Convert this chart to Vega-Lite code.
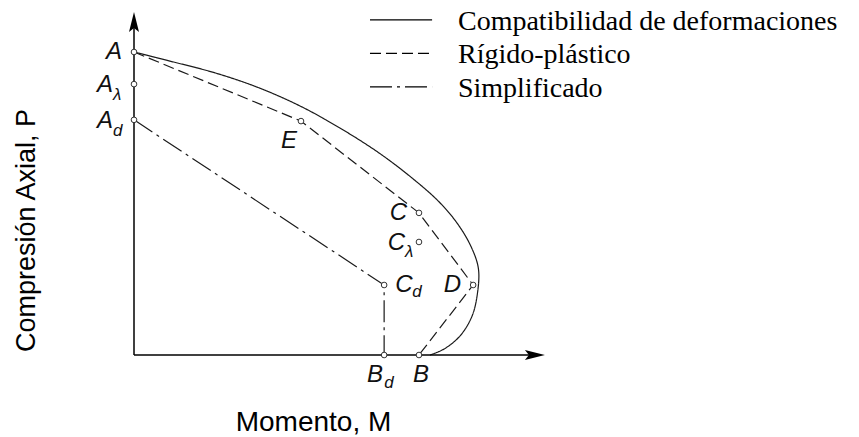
{
  "$schema": "https://vega.github.io/schema/vega-lite/v6.json",
  "width": 859,
  "height": 437,
  "autosize": {"type": "none"},
  "padding": 0,
  "background": "white",
  "config": {
    "view": {"stroke": null},
    "font": "Liberation Sans",
    "axis": {"grid": false, "domain": false, "ticks": false, "labels": false}
  },
  "datasets": {
    "series": [
      {"series": "Compatibilidad de deformaciones"},
      {"series": "Rígido-plástico"},
      {"series": "Simplificado"}
    ],
    "curves": [
      {"series": "Compatibilidad de deformaciones", "seq": 1, "M": 0, "P": 100},
      {"series": "Compatibilidad de deformaciones", "seq": 2, "M": 10.4, "P": 97.0},
      {"series": "Compatibilidad de deformaciones", "seq": 3, "M": 23.5, "P": 93.1},
      {"series": "Compatibilidad de deformaciones", "seq": 4, "M": 35.7, "P": 88.4},
      {"series": "Compatibilidad de deformaciones", "seq": 5, "M": 48.1, "P": 82.2},
      {"series": "Compatibilidad de deformaciones", "seq": 6, "M": 59.7, "P": 74.9},
      {"series": "Compatibilidad de deformaciones", "seq": 7, "M": 71.0, "P": 66.7},
      {"series": "Compatibilidad de deformaciones", "seq": 8, "M": 80.6, "P": 58.4},
      {"series": "Compatibilidad de deformaciones", "seq": 9, "M": 88.2, "P": 50.8},
      {"series": "Compatibilidad de deformaciones", "seq": 10, "M": 93.6, "P": 43.6},
      {"series": "Compatibilidad de deformaciones", "seq": 11, "M": 97.6, "P": 36.0},
      {"series": "Compatibilidad de deformaciones", "seq": 12, "M": 99.8, "P": 28.7},
      {"series": "Compatibilidad de deformaciones", "seq": 13, "M": 99.6, "P": 20.8},
      {"series": "Compatibilidad de deformaciones", "seq": 14, "M": 98.0, "P": 12.9},
      {"series": "Compatibilidad de deformaciones", "seq": 15, "M": 94.5, "P": 6.3},
      {"series": "Compatibilidad de deformaciones", "seq": 16, "M": 89.9, "P": 2.0},
      {"series": "Compatibilidad de deformaciones", "seq": 17, "M": 85.8, "P": 0},
      {"series": "Rígido-plástico", "seq": 1, "M": 0, "P": 100},
      {"series": "Rígido-plástico", "seq": 2, "M": 48.4, "P": 77.2},
      {"series": "Rígido-plástico", "seq": 3, "M": 82.6, "P": 46.9},
      {"series": "Rígido-plástico", "seq": 4, "M": 98.3, "P": 23.1},
      {"series": "Rígido-plástico", "seq": 5, "M": 82.6, "P": 0},
      {"series": "Simplificado", "seq": 1, "M": 0, "P": 77.6},
      {"series": "Simplificado", "seq": 2, "M": 72.5, "P": 23.1},
      {"series": "Simplificado", "seq": 3, "M": 72.5, "P": 0}
    ],
    "points": [
      {"name": "A", "main": "A", "sub": "", "M": 0, "P": 100},
      {"name": "Aλ", "main": "A", "sub": "λ", "M": 0, "P": 89.4},
      {"name": "Ad", "main": "A", "sub": "d", "M": 0, "P": 77.6},
      {"name": "E", "main": "E", "sub": "", "M": 48.4, "P": 77.2},
      {"name": "C", "main": "C", "sub": "", "M": 82.6, "P": 46.9},
      {"name": "Cλ", "main": "C", "sub": "λ", "M": 82.6, "P": 37.3},
      {"name": "Cd", "main": "C", "sub": "d", "M": 72.5, "P": 23.1},
      {"name": "D", "main": "D", "sub": "", "M": 98.3, "P": 23.1},
      {"name": "Bd", "main": "B", "sub": "d", "M": 72.5, "P": 0},
      {"name": "B", "main": "B", "sub": "", "M": 82.6, "P": 0}
    ]
  },
  "layer": [
    {
      "data": {"name": "curves"},
      "transform": [{"filter": {"field": "series", "equal": "Compatibilidad de deformaciones"}}],
      "mark": {"type": "line", "color": "#1a1a1a", "strokeWidth": 1.2, "interpolate": "catmull-rom"},
      "encoding": {
        "x": {
          "field": "M", "type": "quantitative",
          "scale": {"domain": [-38.84, 210.14], "nice": false, "zero": false},
          "axis": {
            "title": "Momento, M", "titleFont": "Liberation Sans", "titleFontSize": 28,
            "titleFontWeight": "normal", "titleColor": "#000",
            "titleX": 313, "titleY": -7, "titleAlign": "center", "titleBaseline": "alphabetic"
          }
        },
        "y": {
          "field": "P", "type": "quantitative",
          "scale": {"domain": [-27.06, 117.16], "nice": false, "zero": false},
          "axis": {
            "title": "Compresión Axial, P", "titleFont": "Liberation Sans", "titleFontSize": 27,
            "titleFontWeight": "normal", "titleColor": "#000", "titleAngle": 270,
            "titleX": 34, "titleY": 230, "titleAlign": "center", "titleBaseline": "alphabetic"
          }
        },
        "order": {"field": "seq", "type": "quantitative"},
        "strokeDash": {
          "field": "series", "type": "nominal",
          "scale": {
            "domain": ["Compatibilidad de deformaciones", "Rígido-plástico", "Simplificado"],
            "range": [[1, 0], [11, 5], [22, 5, 3, 5]]
          },
          "legend": null
        }
      }
    },
    {
      "data": {"name": "curves"},
      "transform": [{"filter": {"field": "series", "oneOf": ["Rígido-plástico", "Simplificado"]}}],
      "mark": {"type": "line", "color": "#1a1a1a", "strokeWidth": 1.2, "interpolate": "linear"},
      "encoding": {
        "x": {"field": "M", "type": "quantitative", "scale": {"domain": [-38.84, 210.14], "nice": false, "zero": false}},
        "y": {"field": "P", "type": "quantitative", "scale": {"domain": [-27.06, 117.16], "nice": false, "zero": false}},
        "order": {"field": "seq", "type": "quantitative"},
        "strokeDash": {"field": "series", "type": "nominal", "legend": null}
      }
    },
    {
      "data": {"name": "series"},
      "mark": {"type": "rule", "color": "#000", "strokeWidth": 1.2},
      "encoding": {
        "x": {"datum": 68.4, "type": "quantitative", "scale": {"domain": [-38.84, 210.14], "nice": false, "zero": false}},
        "x2": {"datum": 86.4},
        "y": {"datum": 110.6, "type": "quantitative", "scale": {"domain": [-27.06, 117.16], "nice": false, "zero": false}},
        "yOffset": {"field": "series", "type": "nominal", "sort": null, "scale": {"type": "point", "range": [0, 67], "padding": 0}},
        "strokeDash": {"field": "series", "type": "nominal", "legend": null}
      }
    },
    {
      "data": {"name": "series"},
      "mark": {"type": "text", "font": "Liberation Serif", "fontSize": 28, "color": "#000", "align": "left", "baseline": "alphabetic", "dy": 10},
      "encoding": {
        "x": {"datum": 93.9, "type": "quantitative", "scale": {"domain": [-38.84, 210.14], "nice": false, "zero": false}},
        "y": {"datum": 110.6, "type": "quantitative", "scale": {"domain": [-27.06, 117.16], "nice": false, "zero": false}},
        "yOffset": {"field": "series", "type": "nominal", "sort": null, "scale": {"type": "point", "range": [0, 67], "padding": 0}},
        "text": {"field": "series"}
      }
    },
    {
      "data": {"values": [{}]},
      "mark": {"type": "rule", "color": "#000", "strokeWidth": 1.5},
      "encoding": {
        "x": {"datum": 0, "type": "quantitative", "scale": {"domain": [-38.84, 210.14], "nice": false, "zero": false}},
        "x2": {"datum": 116},
        "y": {"datum": 0, "type": "quantitative", "scale": {"domain": [-27.06, 117.16], "nice": false, "zero": false}}
      }
    },
    {
      "data": {"values": [{}]},
      "mark": {"type": "rule", "color": "#000", "strokeWidth": 1.5},
      "encoding": {
        "x": {"datum": 0, "type": "quantitative", "scale": {"domain": [-38.84, 210.14], "nice": false, "zero": false}},
        "y": {"datum": 0, "type": "quantitative", "scale": {"domain": [-27.06, 117.16], "nice": false, "zero": false}},
        "y2": {"datum": 108}
      }
    },
    {
      "data": {"values": [{}]},
      "mark": {"type": "point", "shape": "M1,0L-1,0.5L-0.6,0L-1,-0.5Z", "filled": true, "color": "#000", "opacity": 1, "size": 400},
      "encoding": {
        "x": {"datum": 116.2, "type": "quantitative", "scale": {"domain": [-38.84, 210.14], "nice": false, "zero": false}},
        "y": {"datum": 0, "type": "quantitative", "scale": {"domain": [-27.06, 117.16], "nice": false, "zero": false}}
      }
    },
    {
      "data": {"values": [{}]},
      "mark": {"type": "point", "shape": "M0,-1L0.5,1L0,0.6L-0.5,1Z", "filled": true, "color": "#000", "opacity": 1, "size": 400},
      "encoding": {
        "x": {"datum": 0, "type": "quantitative", "scale": {"domain": [-38.84, 210.14], "nice": false, "zero": false}},
        "y": {"datum": 109.9, "type": "quantitative", "scale": {"domain": [-27.06, 117.16], "nice": false, "zero": false}}
      }
    },
    {
      "data": {"name": "points"},
      "encoding": {
        "x": {"field": "M", "type": "quantitative", "scale": {"domain": [-38.84, 210.14], "nice": false, "zero": false}},
        "y": {"field": "P", "type": "quantitative", "scale": {"domain": [-27.06, 117.16], "nice": false, "zero": false}}
      },
      "layer": [
        {
          "mark": {"type": "point", "shape": "circle", "filled": true, "fill": "white", "stroke": "#333", "strokeWidth": 1, "size": 32, "opacity": 1}
        },
        {
          "transform": [{"filter": {"field": "name", "oneOf": ["A", "C", "D"]}}],
          "mark": {"type": "text", "font": "Liberation Sans", "fontStyle": "italic", "fontSize": 24, "color": "#111", "align": "right", "baseline": "alphabetic", "dx": -12, "dy": 7},
          "encoding": {"text": {"field": "main"}}
        },
        {
          "transform": [{"filter": {"field": "name", "oneOf": ["Aλ", "Ad"]}}],
          "mark": {"type": "text", "font": "Liberation Sans", "fontStyle": "italic", "fontSize": 24, "color": "#111", "align": "right", "baseline": "alphabetic", "dx": -21, "dy": 8},
          "encoding": {"text": {"field": "main"}}
        },
        {
          "transform": [{"filter": {"field": "name", "oneOf": ["Aλ", "Ad"]}}],
          "mark": {"type": "text", "font": "Liberation Sans", "fontStyle": "italic", "fontSize": 17, "color": "#111", "align": "left", "baseline": "alphabetic", "dx": -21, "dy": 16},
          "encoding": {"text": {"field": "sub"}}
        },
        {
          "transform": [{"filter": {"field": "name", "equal": "Cλ"}}],
          "mark": {"type": "text", "font": "Liberation Sans", "fontStyle": "italic", "fontSize": 24, "color": "#111", "align": "right", "baseline": "alphabetic", "dx": -14, "dy": 8},
          "encoding": {"text": {"field": "main"}}
        },
        {
          "transform": [{"filter": {"field": "name", "equal": "Cλ"}}],
          "mark": {"type": "text", "font": "Liberation Sans", "fontStyle": "italic", "fontSize": 17, "color": "#111", "align": "left", "baseline": "alphabetic", "dx": -14, "dy": 15},
          "encoding": {"text": {"field": "sub"}}
        },
        {
          "transform": [{"filter": {"field": "name", "equal": "E"}}],
          "mark": {"type": "text", "font": "Liberation Sans", "fontStyle": "italic", "fontSize": 24, "color": "#111", "align": "right", "baseline": "alphabetic", "dx": -4, "dy": 27},
          "encoding": {"text": {"field": "main"}}
        },
        {
          "transform": [{"filter": {"field": "name", "equal": "Cd"}}],
          "mark": {"type": "text", "font": "Liberation Sans", "fontStyle": "italic", "fontSize": 24, "color": "#111", "align": "left", "baseline": "alphabetic", "dx": 11, "dy": 7},
          "encoding": {"text": {"field": "main"}}
        },
        {
          "transform": [{"filter": {"field": "name", "equal": "Cd"}}],
          "mark": {"type": "text", "font": "Liberation Sans", "fontStyle": "italic", "fontSize": 17, "color": "#111", "align": "left", "baseline": "alphabetic", "dx": 28, "dy": 12},
          "encoding": {"text": {"field": "sub"}}
        },
        {
          "transform": [{"filter": {"field": "name", "equal": "Bd"}}],
          "mark": {"type": "text", "font": "Liberation Sans", "fontStyle": "italic", "fontSize": 24, "color": "#111", "align": "right", "baseline": "alphabetic", "dx": -1, "dy": 27},
          "encoding": {"text": {"field": "main"}}
        },
        {
          "transform": [{"filter": {"field": "name", "equal": "Bd"}}],
          "mark": {"type": "text", "font": "Liberation Sans", "fontStyle": "italic", "fontSize": 17, "color": "#111", "align": "left", "baseline": "alphabetic", "dx": 0, "dy": 33},
          "encoding": {"text": {"field": "sub"}}
        },
        {
          "transform": [{"filter": {"field": "name", "equal": "B"}}],
          "mark": {"type": "text", "font": "Liberation Sans", "fontStyle": "italic", "fontSize": 24, "color": "#111", "align": "center", "baseline": "alphabetic", "dx": 2, "dy": 27},
          "encoding": {"text": {"field": "main"}}
        }
      ]
    }
  ]
}
